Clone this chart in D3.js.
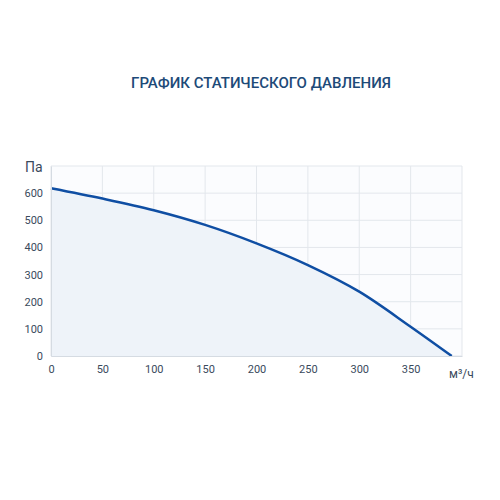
<!DOCTYPE html>
<html lang="ru">
<head>
<meta charset="UTF-8">
<script src="https://d3js.org/d3.v7.min.js"></script>
<style>
  body { margin: 0; background: #fff; font-family: Roboto, "Noto Sans", sans-serif; }
  .axis text { fill: #3a4a5c; font-size: 11px; font-family: Roboto, sans-serif; }
</style>
</head>
<body>
<svg width="500" height="500"></svg>
<script>
const flow = [0, 50, 100, 150, 200, 250, 300, 350, 390];
const pressure = [618, 580, 537, 483, 415, 335, 237, 108, 0];
const xTicks = [0, 50, 100, 150, 200, 250, 300, 350];
const yTicks = [0, 100, 200, 300, 400, 500, 600];

const svg = d3.select("svg");
const margin = { top: 166, left: 51, right: 38, bottom: 144 };
const width = 500 - margin.left - margin.right,
      height = 500 - margin.top - margin.bottom;

svg.append("text")
   .attr("x", 261).attr("y", 88)
   .attr("text-anchor", "middle")
   .attr("fill", "#1d4a78")
   .style("font-size", "15px").style("font-weight", "500")
   .text("ГРАФИК СТАТИЧЕСКОГО ДАВЛЕНИЯ");

const g = svg.append("g").attr("transform", `translate(${margin.left},${margin.top})`);

const x = d3.scaleLinear().domain([0, 400]).range([0, width]);
const y = d3.scaleLinear().domain([0, 700]).range([height, 0]);

g.append("rect").attr("width", width).attr("height", height).attr("fill", "#fbfcfe");

// grid
g.selectAll(".vg").data(xTicks.concat([400])).enter().append("line")
 .attr("x1", d => x(d)).attr("x2", d => x(d)).attr("y1", 0).attr("y2", height)
 .attr("stroke", "#e3e7ec");
g.selectAll(".hg").data(yTicks.concat([700])).enter().append("line")
 .attr("y1", d => y(d)).attr("y2", d => y(d)).attr("x1", 0).attr("x2", width)
 .attr("stroke", "#e3e7ec");

const data = flow.map((f, i) => ({ f, p: pressure[i] }));

g.append("path").datum(data)
 .attr("fill", "#eef3f9")
 .attr("d", d3.area().x(d => x(d.f)).y0(height).y1(d => y(d.p)).curve(d3.curveMonotoneX));

g.append("path").datum(data)
 .attr("fill", "none").attr("stroke", "#0f4ea3").attr("stroke-width", 2.5)
 .attr("d", d3.line().x(d => x(d.f)).y(d => y(d.p)).curve(d3.curveMonotoneX));

g.append("g").attr("class", "axis")
 .attr("transform", `translate(0,${height})`)
 .call(d3.axisBottom(x).tickValues(xTicks).tickSize(0).tickPadding(9))
 .call(a => a.select(".domain").attr("stroke", "#d5dbe2"));

g.append("g").attr("class", "axis")
 .call(d3.axisLeft(y).tickValues(yTicks).tickSize(0).tickPadding(8))
 .call(a => a.select(".domain").attr("stroke", "#d5dbe2"));

svg.append("text").attr("x", 25).attr("y", 172)
   .attr("fill", "#3a4a5c").style("font-size", "14px").text("Па");
svg.append("text").attr("x", 449).attr("y", 378)
   .attr("fill", "#3a4a5c").style("font-size", "12px").text("м³/ч");
</script>
</body>
</html>
